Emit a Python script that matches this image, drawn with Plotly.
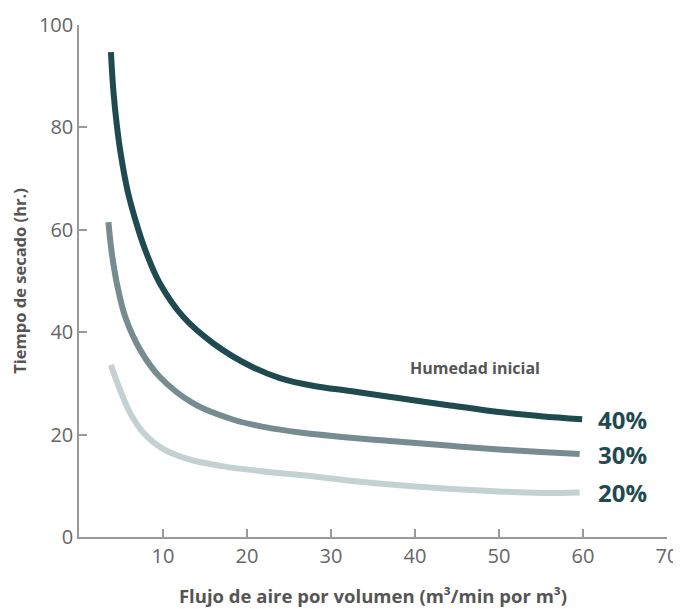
import plotly.graph_objects as go

# Data
x40 = [3.8, 4.1, 4.5, 5.0, 5.8, 6.7, 7.9, 9.6, 12.4, 16.0, 20.4, 24.0, 28.0, 32.3, 38.2, 44.2, 50.0, 55.0, 59.9]
y40 = [94.7, 87.0, 80.5, 74.5, 67.5, 62.0, 56.0, 49.6, 43.0, 37.8, 33.4, 31.0, 29.5, 28.5, 27.1, 25.7, 24.4, 23.6, 23.0]

x30 = [3.5, 3.9, 4.5, 5.5, 7.3, 9.6, 13.6, 18.4, 22.0, 26.3, 32.3, 38.2, 44.2, 50.0, 55.0, 59.6]
y30 = [61.5, 55.5, 49.6, 43.0, 36.5, 31.3, 26.1, 22.9, 21.5, 20.4, 19.4, 18.6, 17.8, 17.1, 16.6, 16.2]

x20 = [3.8, 4.9, 6.1, 7.7, 10.0, 13.2, 17.2, 22.0, 27.0, 32.3, 38.2, 44.2, 50.0, 55.0, 59.6]
y20 = [33.6, 28.7, 24.2, 20.3, 17.2, 15.1, 13.8, 12.8, 12.0, 11.0, 10.1, 9.4, 8.9, 8.6, 8.7]

series_labels = ["40%", "30%", "20%"]
x_ticks = [10, 20, 30, 40, 50, 60, 70]
y_ticks = [0, 20, 40, 60, 80, 100]

colors = ["#1f4a50", "#768c91", "#c4d1d2"]
FONT = "Open Sans, Lato, sans-serif"

fig = go.Figure()
for xs, ys, c, name in zip([x40, x30, x20], [y40, y30, y20], colors, series_labels):
    fig.add_trace(go.Scatter(x=xs, y=ys, mode="lines", name=name,
                             line=dict(color=c, width=6, shape="spline", smoothing=1.0),
                             showlegend=False, hoverinfo="skip", cliponaxis=False))

# End labels
for ys, name in zip([y40, y30, y20], series_labels):
    fig.add_annotation(x=61.6, y=ys[-1], text="<b>" + name + "</b>", showarrow=False,
                       xanchor="left", yanchor="middle",
                       font=dict(family=FONT, size=24, color="#1f4a50"))

fig.add_annotation(x=47.1, y=33.0, text="<b>Humedad inicial</b>", showarrow=False,
                   xanchor="center", yanchor="middle",
                   font=dict(family=FONT, size=16, color="#555555"))

axis_common = dict(showline=True, linecolor="#999999", linewidth=1.5,
                   ticks="inside", ticklen=8, tickcolor="#999999", tickwidth=1.5,
                   showgrid=False, zeroline=False, automargin=False,
                   tickfont=dict(family=FONT, size=20, color="#666666"))

fig.update_layout(
    width=681, height=609,
    margin=dict(l=71, r=22, t=17, b=80),
    paper_bgcolor="white", plot_bgcolor="white",
    xaxis=dict(range=[0, 70], tickvals=x_ticks, **axis_common,
               title=dict(text="<b>Flujo de aire por volumen (m³/min por m³)</b>",
                          font=dict(family=FONT, size=18.5, color="#555555"), standoff=22)),
    yaxis=dict(range=[0, 100], tickvals=y_ticks, **axis_common,
               title=dict(text="<b>Tiempo de secado (hr.)</b>",
                          font=dict(family=FONT, size=16.5, color="#555555"), standoff=15)),
)

fig.write_html("out.html")
